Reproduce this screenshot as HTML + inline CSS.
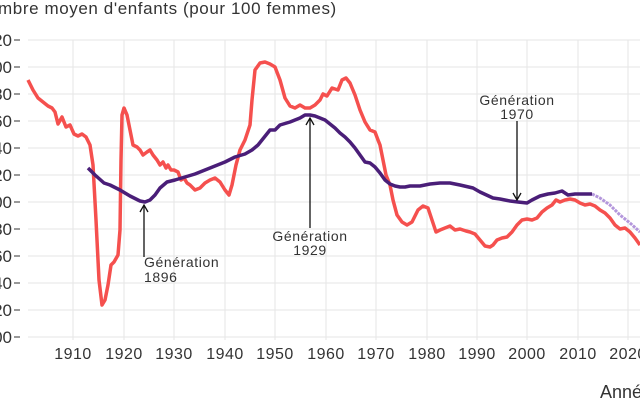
<!DOCTYPE html><html><head><meta charset="utf-8"><style>body{margin:0;background:#fff}svg{display:block;font-family:"Liberation Sans",sans-serif}</style></head><body>
<svg width="640" height="400" viewBox="0 0 640 400">
<g stroke="#e6e6e6" stroke-width="1">
<line x1="28" x2="640" y1="40" y2="40"/><line x1="28" x2="640" y1="67" y2="67"/><line x1="28" x2="640" y1="94" y2="94"/><line x1="28" x2="640" y1="121" y2="121"/><line x1="28" x2="640" y1="148" y2="148"/><line x1="28" x2="640" y1="175" y2="175"/><line x1="28" x2="640" y1="202" y2="202"/><line x1="28" x2="640" y1="229" y2="229"/><line x1="28" x2="640" y1="256" y2="256"/><line x1="28" x2="640" y1="283" y2="283"/><line x1="28" x2="640" y1="310" y2="310"/><line x1="28" x2="640" y1="337" y2="337"/>
<line x1="73" x2="73" y1="40" y2="340"/><line x1="124" x2="124" y1="40" y2="340"/><line x1="174" x2="174" y1="40" y2="340"/><line x1="225" x2="225" y1="40" y2="340"/><line x1="275" x2="275" y1="40" y2="340"/><line x1="326" x2="326" y1="40" y2="340"/><line x1="376" x2="376" y1="40" y2="340"/><line x1="427" x2="427" y1="40" y2="340"/><line x1="477" x2="477" y1="40" y2="340"/><line x1="527" x2="527" y1="40" y2="340"/><line x1="578" x2="578" y1="40" y2="340"/><line x1="628" x2="628" y1="40" y2="340"/>
</g>
<g fill="#333" font-size="17" text-anchor="end">
<text x="12" y="46">320</text><text x="12" y="73">300</text><text x="12" y="100">280</text><text x="12" y="127">260</text><text x="12" y="154">240</text><text x="12" y="181">220</text><text x="12" y="208">200</text><text x="12" y="235">180</text><text x="12" y="262">160</text><text x="12" y="289">140</text><text x="12" y="316">120</text><text x="12" y="343">100</text>
</g>
<g stroke="#333" stroke-width="1"><line x1="14" x2="20" y1="40" y2="40"/><line x1="14" x2="20" y1="67" y2="67"/><line x1="14" x2="20" y1="94" y2="94"/><line x1="14" x2="20" y1="121" y2="121"/><line x1="14" x2="20" y1="148" y2="148"/><line x1="14" x2="20" y1="175" y2="175"/><line x1="14" x2="20" y1="202" y2="202"/><line x1="14" x2="20" y1="229" y2="229"/><line x1="14" x2="20" y1="256" y2="256"/><line x1="14" x2="20" y1="283" y2="283"/><line x1="14" x2="20" y1="310" y2="310"/><line x1="14" x2="20" y1="337" y2="337"/></g>
<g fill="#333" font-size="16" text-anchor="middle" letter-spacing="0.5">
<text x="73" y="359">1910</text><text x="124" y="359">1920</text><text x="174" y="359">1930</text><text x="225" y="359">1940</text><text x="275" y="359">1950</text><text x="326" y="359">1960</text><text x="376" y="359">1970</text><text x="427" y="359">1980</text><text x="477" y="359">1990</text><text x="527" y="359">2000</text><text x="578" y="359">2010</text><text x="628" y="359">2020</text>
</g>
<text x="600" y="398" font-size="18" fill="#333">Année</text>
<text x="-2" y="14" font-size="17" fill="#333" letter-spacing="0.6">mbre moyen d'enfants (pour 100 femmes)</text>
<polyline fill="none" stroke="#f5504e" stroke-width="3.5" stroke-linejoin="round" points="28,80 33,90 38,98 43,102 48,106 52,108 55,112 58,124 62,117 66,127 70,125 74,134 78,136 82,134 86,137 90,145 93,165 96,220 99,280 102,305 105,300 108,285 111,265 114,262 118,255 120,230 121,160 122,115 124,108 127,115 130,130 133,145 137,147 140,150 143,155 147,152 150,150 153,155 157,160 160,165 163,162 166,168 168,165 171,170 174,170 178,172 181,180 184,178 187,183 190,185 195,190 200,188 205,183 210,180 215,178 220,182 225,190 229,195 232,185 236,165 240,150 245,140 250,125 252,100 255,70 260,63 265,62 270,64 275,67 280,80 285,98 290,106 295,108 300,105 305,108 310,108 315,105 320,100 323,94 327,96 332,88 338,90 342,80 346,78 350,83 355,95 360,110 365,122 370,130 375,132 378,140 380,145 383,160 386,175 390,185 393,200 397,215 402,222 407,225 412,222 418,210 423,206 428,208 432,220 436,232 440,230 445,228 450,226 455,230 460,229 466,231 470,232 475,234 480,240 485,246 490,247 493,245 497,240 502,238 507,237 512,232 517,225 522,220 527,219 532,220 537,218 542,212 547,208 552,205 556,200 560,202 565,200 570,199 575,200 580,203 585,205 590,204 595,206 600,210 605,213 610,218 615,225 620,229 625,228 630,232 635,238 640,245"/>
<polyline fill="none" stroke="#b497dc" stroke-width="3" stroke-dasharray="3 1" points="592,194 600,198 610,205 620,215 630,223 640,232"/>
<polyline fill="none" stroke="#4a1e78" stroke-width="3.5" stroke-linejoin="round" points="88,168 95,175 104,183 110,185 120,190 130,196 140,201 145,202 150,200 155,195 160,188 167,182 175,180 185,177 195,174 205,170 215,166 225,162 235,157 245,154 252,150 258,145 262,140 266,135 270,130 275,130 280,125 290,122 300,118 305,115 310,115 315,116 320,118 325,120 330,124 335,128 340,133 345,137 350,142 355,148 360,155 365,162 370,163 375,167 380,173 385,180 390,184 395,186 400,187 405,187 410,186 420,186 430,184 440,183 450,183 460,185 473,188 480,192 493,198 500,199 510,201 518,202 527,203 532,200 540,196 548,194 555,193 562,191 568,195 575,194 585,194 592,194"/>
<g stroke="#111" stroke-width="1.3" fill="none">
<line x1="144" y1="257" x2="144" y2="205"/><polyline points="140,212 144,205 148,212"/>
<line x1="310" y1="228" x2="310" y2="118"/><polyline points="306,125 310,118 314,125"/>
<line x1="517" y1="121" x2="517" y2="200"/><polyline points="513,193 517,200 521,193"/>
</g>
<g fill="#333" font-size="14" letter-spacing="0.6">
<text x="144" y="267">Génération</text><text x="144" y="282">1896</text>
<text x="310" y="241" text-anchor="middle">Génération</text><text x="310" y="255" text-anchor="middle">1929</text>
<text x="517" y="105" text-anchor="middle">Génération</text><text x="517" y="119" text-anchor="middle">1970</text>
</g>
</svg></body></html>
